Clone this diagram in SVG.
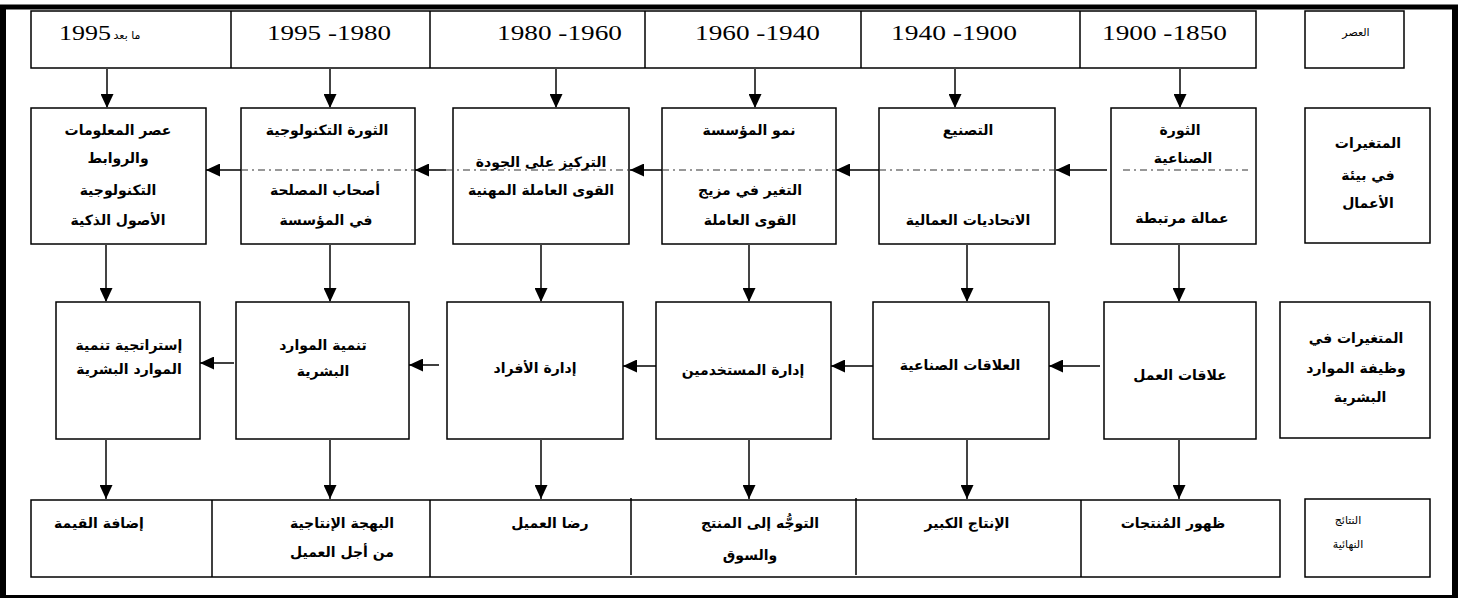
<svg xmlns="http://www.w3.org/2000/svg" width="1464" height="599" viewBox="0 0 1464 599">
<style>
.box{fill:#fff;stroke:#000;stroke-width:1.5}
.yr{font-family:"Liberation Serif",serif;font-size:22px;fill:#000}
.ar{font-family:"DejaVu Sans","Liberation Serif",sans-serif;font-size:14px;font-weight:bold;text-anchor:middle;direction:rtl;fill:#000}
.sm{font-size:11px;font-weight:normal}
.v{stroke:#444;stroke-width:2;fill:none;marker-end:url(#ah)}
.h{stroke:#000;stroke-width:1.5;fill:none;marker-end:url(#ah)}
.dd{stroke:#333;stroke-width:1.2;fill:none;stroke-dasharray:7 4 2 4}
.frame{stroke:#000;fill:none}
</style>
<defs>
<marker id="ah" markerUnits="userSpaceOnUse" markerWidth="15" markerHeight="13" refX="14" refY="6.5" orient="auto">
<path d="M0,0 L14,6.5 L0,13 z" fill="#000"/>
</marker>
</defs>

<g id="frame">
<line class="frame" x1="0" y1="7" x2="1458" y2="7" stroke-width="5"/>
<line class="frame" x1="3" y1="5" x2="3" y2="598" stroke-width="6"/>
<line class="frame" x1="1455" y1="5" x2="1455" y2="598" stroke-width="6"/>
<line class="frame" x1="0" y1="596.5" x2="1458" y2="596.5" stroke-width="3"/>
</g>

<g id="era-row">
<rect class="box" x="31" y="11" width="1225" height="57"/>
<line class="box" x1="231" y1="11" x2="231" y2="68"/>
<line class="box" x1="430" y1="11" x2="430" y2="68"/>
<line class="box" x1="645" y1="11" x2="645" y2="68"/>
<line class="box" x1="861" y1="11" x2="861" y2="68"/>
<line class="box" x1="1080" y1="11" x2="1080" y2="68"/>
<text class="yr" x="59" y="40" textLength="52" lengthAdjust="spacingAndGlyphs">1995</text>
<text class="ar sm" x="127" y="39">ما بعد</text>
<text class="yr" x="267" y="40" textLength="124" lengthAdjust="spacingAndGlyphs">1995 -1980</text>
<text class="yr" x="497" y="40" textLength="125" lengthAdjust="spacingAndGlyphs">1980 -1960</text>
<text class="yr" x="695" y="40" textLength="125" lengthAdjust="spacingAndGlyphs">1960 -1940</text>
<text class="yr" x="891" y="40" textLength="126" lengthAdjust="spacingAndGlyphs">1940 -1900</text>
<text class="yr" x="1102" y="40" textLength="125" lengthAdjust="spacingAndGlyphs">1900 -1850</text>
</g>

<g id="label-era">
<rect class="box" x="1305" y="11" width="99" height="57"/>
<text class="ar sm" x="1356" y="36">العصر</text>
</g>

<g id="b1">
<rect class="box" x="31" y="108" width="175" height="136"/>
<text class="ar" x="118" y="135">عصر المعلومات</text>
<text class="ar" x="118" y="163">والروابط</text>
<text class="ar" x="118" y="195">التكنولوجية</text>
<text class="ar" x="118" y="225">الأصول الذكية</text>
</g>
<g id="b2">
<rect class="box" x="241" y="108" width="174" height="136"/>
<text class="ar" x="327" y="135">الثورة التكنولوجية</text>
<text class="ar" x="325" y="195">أصحاب المصلحة</text>
<text class="ar" x="326" y="225">في المؤسسة</text>
</g>
<g id="b3">
<rect class="box" x="453" y="108" width="176" height="136"/>
<text class="ar" x="541" y="167">التركيز على الجودة</text>
<text class="ar" x="541" y="195">القوى العاملة المهنية</text>
</g>
<g id="b4">
<rect class="box" x="662" y="108" width="174" height="136"/>
<text class="ar" x="749" y="135">نمو المؤسسة</text>
<text class="ar" x="750" y="195">التغير في مزيج</text>
<text class="ar" x="750" y="225">القوى العاملة</text>
</g>
<g id="b5">
<rect class="box" x="879" y="108" width="176" height="136"/>
<text class="ar" x="968" y="135">التصنيع</text>
<text class="ar" x="968" y="225">الاتحاديات العمالية</text>
</g>
<g id="b6">
<rect class="box" x="1111" y="108" width="145" height="136"/>
<text class="ar" x="1180" y="135">الثورة</text>
<text class="ar" x="1183" y="163">الصناعية</text>
<text class="ar" x="1182" y="223">عمالة مرتبطة</text>
</g>
<g id="label-env">
<rect class="box" x="1305" y="108" width="125" height="135"/>
<text class="ar" x="1368" y="148">المتغيرات</text>
<text class="ar" x="1368" y="180">في بيئة</text>
<text class="ar" x="1368" y="208">الأعمال</text>
</g>

<g id="c1">
<rect class="box" x="56" y="302" width="144" height="137"/>
<text class="ar" x="129" y="350">إستراتجية تنمية</text>
<text class="ar" x="129" y="374">الموارد البشرية</text>
</g>
<g id="c2">
<rect class="box" x="236" y="302" width="173" height="137"/>
<text class="ar" x="323" y="350">تنمية الموارد</text>
<text class="ar" x="323" y="376">البشرية</text>
</g>
<g id="c3">
<rect class="box" x="447" y="302" width="176" height="137"/>
<text class="ar" x="535" y="373">إدارة الأفراد</text>
</g>
<g id="c4">
<rect class="box" x="656" y="302" width="175" height="137"/>
<text class="ar" x="743" y="375">إدارة المستخدمين</text>
</g>
<g id="c5">
<rect class="box" x="873" y="302" width="176" height="137"/>
<text class="ar" x="960" y="370">العلاقات الصناعية</text>
</g>
<g id="c6">
<rect class="box" x="1104" y="302" width="152" height="137"/>
<text class="ar" x="1180" y="380">علاقات العمل</text>
</g>
<g id="label-hr">
<rect class="box" x="1280" y="302" width="150" height="136"/>
<text class="ar" x="1356" y="343">المتغيرات في</text>
<text class="ar" x="1356" y="373">وظيفة الموارد</text>
<text class="ar" x="1360" y="402">البشرية</text>
</g>

<g id="results-row">
<rect class="box" x="31" y="500" width="1249" height="77"/>
<line class="box" x1="212" y1="500" x2="212" y2="577"/>
<line class="box" x1="430" y1="500" x2="430" y2="577"/>
<line class="box" x1="631" y1="498" x2="631" y2="575"/>
<line class="box" x1="856" y1="498" x2="856" y2="575"/>
<line class="box" x1="1081" y1="500" x2="1081" y2="577"/>
<text class="ar" x="99" y="528">إضافة القيمة</text>
<text class="ar" x="342" y="528">البهجة الإنتاجية</text>
<text class="ar" x="342" y="557">من أجل العميل</text>
<text class="ar" x="550" y="528">رضا العميل</text>
<text class="ar" x="760" y="528">التوجُّه إلى المنتج</text>
<text class="ar" x="750" y="560">والسوق</text>
<text class="ar" x="967" y="528">الإنتاج الكبير</text>
<text class="ar" x="1173" y="528">ظهور المُنتجات</text>
</g>
<g id="label-results">
<rect class="box" x="1305" y="499" width="125" height="78"/>
<text class="ar sm" x="1348" y="524">النتائج</text>
<text class="ar sm" x="1348" y="548">النهائية</text>
</g>

<g id="connectors">
<line class="v" x1="107" y1="68" x2="107" y2="108"/>
<line class="v" x1="330" y1="68" x2="330" y2="108"/>
<line class="v" x1="556" y1="68" x2="556" y2="108"/>
<line class="v" x1="755" y1="68" x2="755" y2="108"/>
<line class="v" x1="955" y1="68" x2="955" y2="108"/>
<line class="v" x1="1180" y1="68" x2="1180" y2="108"/>

<line class="v" x1="106" y1="244" x2="106" y2="302"/>
<line class="v" x1="330" y1="244" x2="330" y2="302"/>
<line class="v" x1="541" y1="244" x2="541" y2="302"/>
<line class="v" x1="749" y1="244" x2="749" y2="302"/>
<line class="v" x1="967" y1="244" x2="967" y2="302"/>
<line class="v" x1="1179" y1="244" x2="1179" y2="302"/>

<line class="v" x1="106" y1="439" x2="106" y2="499"/>
<line class="v" x1="330" y1="439" x2="330" y2="499"/>
<line class="v" x1="541" y1="439" x2="541" y2="499"/>
<line class="v" x1="749" y1="439" x2="749" y2="499"/>
<line class="v" x1="967" y1="439" x2="967" y2="499"/>
<line class="v" x1="1179" y1="439" x2="1179" y2="499"/>

<line class="dd" x1="241" y1="170" x2="415" y2="170"/>
<line class="dd" x1="446" y1="170" x2="629" y2="170"/>
<line class="dd" x1="662" y1="170" x2="836" y2="170"/>
<line class="dd" x1="879" y1="170" x2="1055" y2="170"/>
<line class="dd" x1="1123" y1="170" x2="1248" y2="170"/>

<line class="h" x1="241" y1="170" x2="206" y2="170"/>
<line class="h" x1="446" y1="170" x2="415" y2="170"/>
<line class="h" x1="662" y1="170" x2="630" y2="170"/>
<line class="h" x1="879" y1="170" x2="836" y2="170"/>
<line class="h" x1="1107" y1="170" x2="1056" y2="170"/>

<line class="h" x1="234" y1="363" x2="200" y2="363"/>
<line class="h" x1="439" y1="365" x2="409" y2="365"/>
<line class="h" x1="656" y1="366" x2="623" y2="366"/>
<line class="h" x1="873" y1="366" x2="831" y2="366"/>
<line class="h" x1="1100" y1="366" x2="1049" y2="366"/>
</g>
</svg>
